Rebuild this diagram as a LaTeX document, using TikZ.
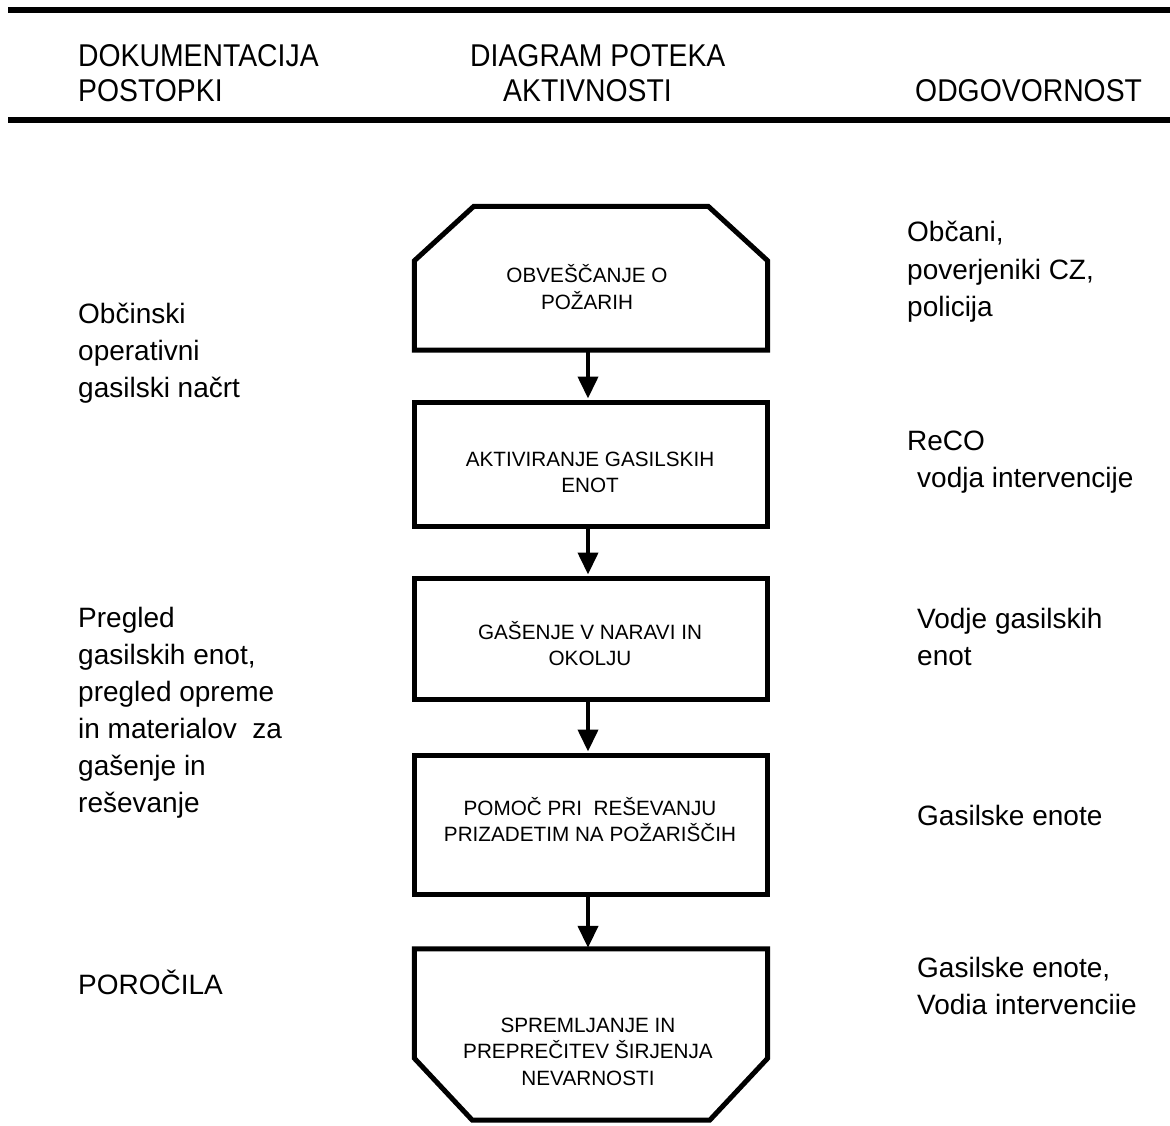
\documentclass[tikz,border=0pt]{standalone}
\usepackage{fontspec}
\setmainfont{Liberation Sans}
\newfontfamily\hdrfont[FakeStretch=0.9]{Liberation Sans}
\usetikzlibrary{arrows.meta}
\begin{document}
\begin{tikzpicture}[x=1pt,y=-1pt,
  hdr/.style={font=\hdrfont\fontsize{31.5}{37}\selectfont, anchor=base west, inner sep=0pt},
  body/.style={font=\fontsize{28}{37}\selectfont, anchor=base west, inner sep=0pt},
  btxt/.style={font=\fontsize{20.7}{26}\selectfont, anchor=base, inner sep=0pt},
  shapebox/.style={rectangle, minimum width=353pt, inner sep=0pt},
  stepbox/.style={shapebox, draw, line width=5pt},
  outline/.style={line width=5pt, line join=miter},
  flow/.style={line width=4pt, -{Triangle[length=22pt,width=20pt]}, shorten >=1pt},
  rulebar/.style={line width=6pt}]
\useasboundingbox (0,0) rectangle (1170,1126);

% header rules
\draw[rulebar] (8,10) -- (1170,10);
\draw[rulebar] (8,120) -- (1170,120);

% header text
\node[hdr] (h1) at (78,67) {DOKUMENTACIJA};
\node[hdr] (h2) at (78,102) {POSTOPKI};
\node[hdr] (h3) at (470,67) {DIAGRAM POTEKA};
\node[hdr] (h4) at (503,102) {AKTIVNOSTI};
\node[hdr] (h5) at (915,102) {ODGOVORNOST};

% flow boxes
\node[shapebox, minimum height=143.5pt] (b1) at (591,278.25) {};
\draw[outline] (b1.south west) -- ([yshift=-54.5pt]b1.north west)
  -- ([xshift=59.5pt]b1.north west) -- ([xshift=-59.5pt]b1.north east)
  -- ([yshift=-54.5pt]b1.north east) -- (b1.south east) -- cycle;
\node[stepbox, minimum height=124pt] (b2) at (591,464) {};
\node[stepbox, minimum height=121pt] (b3) at (591,638.5) {};
\node[stepbox, minimum height=139pt] (b4) at (591,824.5) {};
\node[shapebox, minimum height=171pt] (b5) at (591,1034.5) {};
\draw[outline] (b5.north west) -- ([yshift=62pt]b5.south west)
  -- ([xshift=58pt]b5.south west) -- ([xshift=-58pt]b5.south east)
  -- ([yshift=62pt]b5.south east) -- (b5.north east) -- cycle;

% connectors
\draw[flow] ([xshift=-3pt]b1.south) -- ([xshift=-3pt]b2.north);
\draw[flow] ([xshift=-3pt]b2.south) -- ([xshift=-3pt]b3.north);
\draw[flow] ([xshift=-3pt]b3.south) -- ([xshift=-3pt]b4.north);
\draw[flow] ([xshift=-3pt]b4.south) -- ([xshift=-3pt]b5.north);

% box texts
\node[btxt] (t1a) at (587,282) {OBVEŠČANJE O};
\node[btxt] (t1b) at (587,309) {POŽARIH};
\node[btxt] (t2a) at (590,466) {AKTIVIRANJE GASILSKIH};
\node[btxt] (t2b) at (590,492) {ENOT};
\node[btxt] (t3a) at (590,639) {GAŠENJE V NARAVI IN};
\node[btxt] (t3b) at (590,665) {OKOLJU};
\node[btxt] (t4a) at (590,815) {POMOČ PRI\ \ REŠEVANJU};
\node[btxt] (t4b) at (590,841) {PRIZADETIM NA POŽARIŠČIH};
\node[btxt] (t5a) at (588,1032) {SPREMLJANJE IN};
\node[btxt] (t5b) at (588,1058) {PREPREČITEV ŠIRJENJA};
\node[btxt] (t5c) at (588,1085) {NEVARNOSTI};

% left column
\node[body] (l1) at (78,323) {Občinski};
\node[body] (l2) at (78,360) {operativni};
\node[body] (l3) at (78,397) {gasilski načrt};
\node[body] (l4) at (78,627) {Pregled};
\node[body] (l5) at (78,664) {gasilskih enot,};
\node[body] (l6) at (78,701) {pregled opreme};
\node[body] (l7) at (78,738) {in materialov\ \ za};
\node[body] (l8) at (78,775) {gašenje in};
\node[body] (l9) at (78,812) {reševanje};
\node[body] (l10) at (78,994) {POROČILA};

% right column
\node[body] (r1) at (907,242) {Občani,};
\node[body] (r2) at (907,279) {poverjeniki CZ,};
\node[body] (r3) at (907,316) {policija};
\node[body] (r4) at (907,450) {ReCO};
\node[body] (r5) at (917,487) {vodja intervencije};
\node[body] (r6) at (917,628) {Vodje gasilskih};
\node[body] (r7) at (917,665) {enot};
\node[body] (r8) at (917,825) {Gasilske enote};
\node[body] (r9) at (917,977) {Gasilske enote,};
\node[body] (r10) at (917,1014) {Vodia intervenciie};
\end{tikzpicture}
\end{document}
